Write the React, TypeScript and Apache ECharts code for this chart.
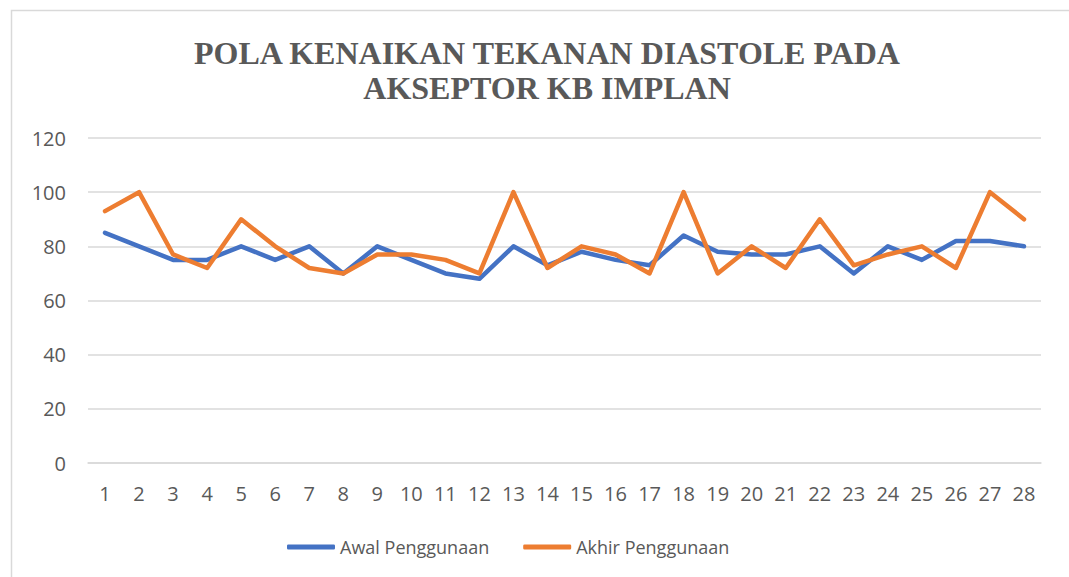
import React, { useEffect, useRef } from "react";
import * as echarts from "echarts";

const categories = ["1","2","3","4","5","6","7","8","9","10","11","12","13","14","15","16","17","18","19","20","21","22","23","24","25","26","27","28"];
const awal = [85,80,75,75,80,75,80,70,80,75,70,68,80,73,78,75,73,84,78,77,77,80,70,80,75,82,82,80];
const akhir = [93,100,77,72,90,80,72,70,77,77,75,70,100,72,80,77,70,100,70,80,72,90,73,77,80,72,100,90];
const seriesNames = ["Awal Penggunaan", "Akhir Penggunaan"];
const titleLines = ["POLA KENAIKAN TEKANAN DIASTOLE PADA", "AKSEPTOR KB IMPLAN"];

export default function App() {
  const ref = useRef<HTMLDivElement>(null);
  useEffect(() => {
    document.body.style.margin = "0";
    const chart = echarts.init(ref.current!, null, { renderer: "svg" });
    const labelFont = "'Open Sans', 'Liberation Sans', sans-serif";
    chart.setOption({
      animation: false,
      backgroundColor: "#ffffff",
      title: {
        text: titleLines.join("\n"),
        left: 542,
        top: 30,
        textAlign: "center",
        textStyle: {
          fontFamily: "'Liberation Serif', 'Times New Roman', serif",
          fontWeight: "bold",
          fontSize: 32,
          lineHeight: 35,
          color: "#595959",
        },
      },
      graphic: [
        {
          type: "rect",
          shape: { x: 11.5, y: 10.5, width: 1080, height: 600 },
          style: { fill: "none", stroke: "#d9d9d9", lineWidth: 1.5 },
          silent: true,
        },
      ],
      legend: {
        left: 282,
        top: 533,
        itemWidth: 48,
        itemHeight: 5,
        itemGap: 34,
        icon: "roundRect",
        textStyle: { fontFamily: labelFont, fontSize: 18, color: "#595959" },
        data: seriesNames,
      },
      grid: { left: 88, right: 28, top: 138, bottom: 114 },
      xAxis: {
        type: "category",
        data: categories,
        boundaryGap: true,
        axisLine: { lineStyle: { color: "#d9d9d9", width: 1.5 } },
        axisTick: { show: false },
        axisLabel: { fontFamily: labelFont, fontSize: 20, color: "#595959", margin: 20 },
      },
      yAxis: {
        type: "value",
        min: 0,
        max: 120,
        interval: 20,
        axisLine: { show: false },
        axisTick: { show: false },
        splitLine: { lineStyle: { color: "#d9d9d9", width: 1.5 } },
        axisLabel: { fontFamily: labelFont, fontSize: 20, color: "#595959", margin: 22 },
      },
      series: [
        {
          name: seriesNames[0],
          type: "line",
          data: awal,
          symbol: "none",
          lineStyle: { color: "#4472C4", width: 4.5, join: "round", cap: "round" },
          itemStyle: { color: "#4472C4" },
        },
        {
          name: seriesNames[1],
          type: "line",
          data: akhir,
          symbol: "none",
          lineStyle: { color: "#ED7D31", width: 4.5, join: "round", cap: "round" },
          itemStyle: { color: "#ED7D31" },
        },
      ],
    });
    return () => chart.dispose();
  }, []);
  return <div ref={ref} style={{ width: 1069, height: 577 }} />;
}
